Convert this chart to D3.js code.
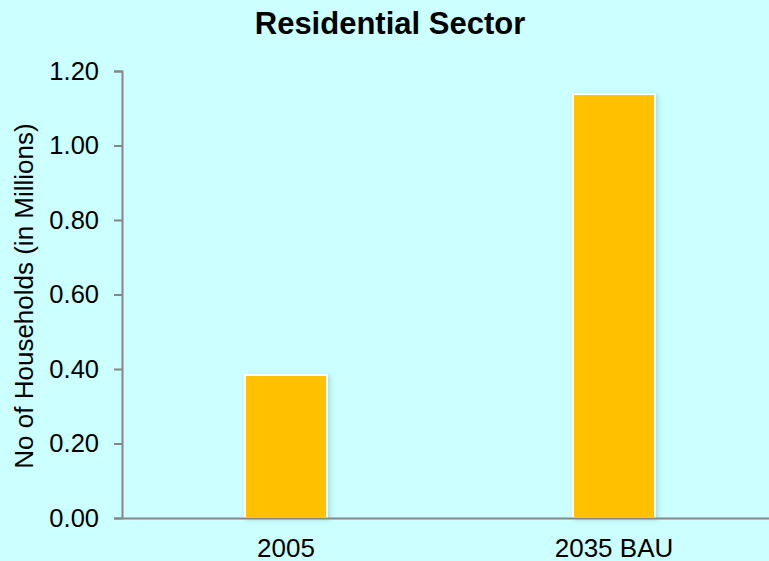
<!DOCTYPE html>
<html>
<head>
<meta charset="utf-8">
<script src="https://cdn.jsdelivr.net/npm/d3@7"></script>
<style>
  body { margin: 0; background: #ccffff; }
  svg { display: block; font-family: "Liberation Sans", Arial, sans-serif; }
</style>
</head>
<body>
<svg width="769" height="561"></svg>
<script>
const categories = ["2005", "2035 BAU"];
const households = [0.384, 1.138];
const yTicks = [0, 0.2, 0.4, 0.6, 0.8, 1.0, 1.2];

const WIDTH = 769;
const HEIGHT = 561;
const MARGINS = {top: 71, bottom: 43, left: 122, right: -9};

const svg = d3.select('svg')
.attr('width', WIDTH)
.attr('height', HEIGHT);

svg.append('rect')
.attr('width', WIDTH)
.attr('height', HEIGHT)
.attr('fill', '#ccffff');

// soft shadow behind bars
const defs = svg.append('defs');
const shadow = defs.append('filter').attr('id', 'shadow')
.attr('x', '-10%').attr('y', '-10%').attr('width', '130%').attr('height', '120%');
shadow.append('feDropShadow')
.attr('dx', 2).attr('dy', 1).attr('stdDeviation', 2)
.attr('flood-color', '#5a9a9a').attr('flood-opacity', 0.35);

const xScale = d3.scaleBand()
.domain(categories)
.range([MARGINS.left, WIDTH - MARGINS.right]);

const yScale = d3.scaleLinear()
.domain([0, 1.2])
.range([HEIGHT - MARGINS.bottom, MARGINS.top]);

const data = categories.map((c, i) => ({name: c, value: households[i]}));
const barW = xScale.bandwidth() * 0.25;

//bars
svg.selectAll('.bar')
.data(data)
.enter()
.append('rect')
.attr('x', d => xScale(d.name) + (xScale.bandwidth() - barW) / 2)
.attr('y', d => yScale(d.value))
.attr('width', barW)
.attr('height', d => yScale(0) - yScale(d.value))
.attr('fill', '#ffc000')
.attr('stroke', '#ffffff')
.attr('stroke-width', 2)
.attr('filter', 'url(#shadow)');

//y axis
const yAxis = svg.append('g')
.attr('transform', `translate(${MARGINS.left},0)`)
.call(d3.axisLeft(yScale).tickValues(yTicks).tickFormat(d3.format('.2f')).tickSize(8).tickPadding(15));
yAxis.attr('font-size', null).attr('font-family', null);
yAxis.select('.domain').attr('stroke', '#868686').attr('stroke-width', 2);
yAxis.selectAll('.tick line').attr('stroke', '#868686').attr('stroke-width', 2);
yAxis.selectAll('.tick text').attr('fill', '#000').style('font-size', '25.5px');

//x axis
const xAxis = svg.append('g')
.attr('transform', `translate(0,${yScale(0)})`)
.call(d3.axisBottom(xScale).tickSize(0).tickPadding(21));
xAxis.attr('font-size', null).attr('font-family', null);
xAxis.select('.domain').attr('stroke', '#868686').attr('stroke-width', 2);
xAxis.selectAll('.tick text').attr('fill', '#000').style('font-size', '26px');

//title
svg.append('text')
.text('Residential Sector')
.attr('x', 390)
.attr('y', 34)
.attr('text-anchor', 'middle')
.style('font-size', '31px')
.style('font-weight', 'bold');

//y label
svg.append('text')
.text('No of Households (in Millions)')
.attr('transform', `translate(33,296) rotate(-90)`)
.attr('text-anchor', 'middle')
.style('font-size', '26px');
</script>
</body>
</html>
